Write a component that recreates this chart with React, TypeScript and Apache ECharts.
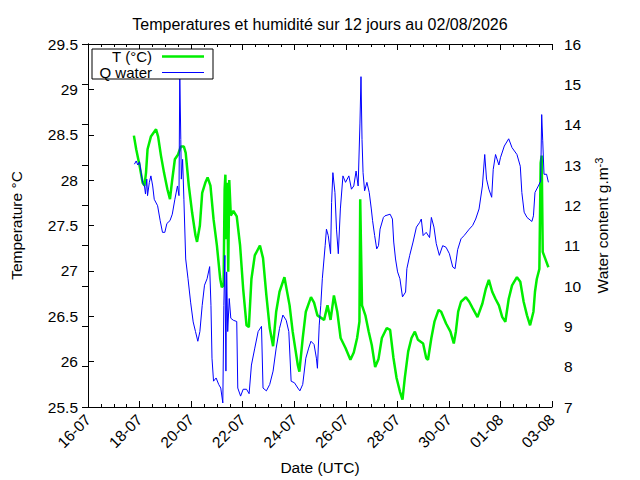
import React, { useEffect, useRef } from "react";
import * as echarts from "echarts";

// Time in days since 16-07-2026 00:00 UTC
const START_UTC = Date.UTC(2026, 6, 16);

const xTickDays = [0, 2, 4, 6, 8, 10, 12, 14, 16, 18];

const tempDays = [
  1.78, 1.87, 2.0, 2.12, 2.19, 2.25, 2.31, 2.44, 2.64, 2.72, 2.83, 2.95, 3.08, 3.18, 3.27, 3.37, 3.49, 3.6, 3.72, 3.79,
  3.91, 4.04, 4.17, 4.23, 4.34, 4.43, 4.55, 4.64, 4.75, 4.87, 5.0, 5.13, 5.19, 5.26, 5.3, 5.33, 5.36, 5.4, 5.44, 5.48,
  5.54, 5.64, 5.77, 5.9, 6.02, 6.15, 6.24, 6.34, 6.47, 6.67, 6.79, 6.92, 7.05, 7.18, 7.3, 7.43, 7.62, 7.82, 7.94, 8.14,
  8.2, 8.33, 8.45, 8.65, 8.77, 8.9, 9.16, 9.29, 9.41, 9.54, 9.67, 9.8, 9.99, 10.18, 10.31, 10.44, 10.53, 10.56, 10.59, 10.63,
  10.76, 10.89, 11.01, 11.14, 11.27, 11.4, 11.59, 11.72, 11.85, 11.97, 12.1, 12.2, 12.29, 12.42, 12.55, 12.68, 12.8, 13.0, 13.12, 13.19,
  13.32, 13.44, 13.6, 13.7, 13.89, 14.06, 14.19, 14.27, 14.36, 14.47, 14.66, 14.79, 14.92, 15.11, 15.3, 15.43, 15.55, 15.68, 15.81, 15.94,
  16.07, 16.19, 16.32, 16.45, 16.64, 16.77, 16.9, 17.03, 17.15, 17.28, 17.34, 17.41, 17.51, 17.56, 17.6, 17.64, 17.73, 17.86,
];
const tempValues = [
  28.49, 28.34, 28.16, 27.97, 27.94, 28.08, 28.34, 28.48, 28.56, 28.48, 28.27, 28.08, 27.9, 27.79, 28.01, 28.23, 28.28, 28.37, 28.37, 28.3,
  27.94, 27.64, 27.39, 27.32, 27.5, 27.86, 27.97, 28.03, 27.94, 27.57, 27.28, 26.91, 26.82, 26.84, 27.9, 28.06, 27.35, 27.97, 26.99, 28.0,
  27.61, 27.66, 27.6, 27.28, 26.8, 26.4, 26.38, 26.91, 27.17, 27.28, 27.14, 26.73, 26.37, 26.17, 26.55, 26.77, 26.93, 26.62, 26.33, 25.96,
  25.89, 26.26, 26.55, 26.71, 26.65, 26.51, 26.46, 26.62, 26.46, 26.73, 26.55, 26.26, 26.15, 26.02, 26.1, 26.26, 26.44, 27.79, 27.28, 26.62,
  26.51, 26.33, 26.18, 25.94, 26.03, 26.26, 26.37, 26.35, 26.04, 25.82, 25.67, 25.58, 25.82, 26.11, 26.26, 26.33, 26.24, 26.2, 26.04, 26.02,
  26.26, 26.44, 26.57, 26.55, 26.42, 26.33, 26.2, 26.33, 26.55, 26.66, 26.71, 26.66, 26.59, 26.49, 26.64, 26.8, 26.9, 26.77, 26.69, 26.62,
  26.49, 26.44, 26.69, 26.84, 26.93, 26.88, 26.66, 26.51, 26.4, 26.55, 26.77, 26.91, 27.02, 28.19, 28.27, 27.21, 27.14, 27.04,
];

const waterDays = [
  1.8, 1.87, 1.93, 2.0, 2.06, 2.12, 2.19, 2.23, 2.28, 2.31, 2.38, 2.44, 2.51, 2.57, 2.7, 2.8, 2.89, 2.98, 3.06, 3.18,
  3.27, 3.37, 3.47, 3.53, 3.56, 3.6, 3.62, 3.67, 3.72, 3.79, 3.88, 3.98, 4.08, 4.17, 4.26, 4.34, 4.43, 4.52, 4.62, 4.72,
  4.77, 4.81, 4.87, 4.97, 5.07, 5.15, 5.23, 5.27, 5.31, 5.35, 5.38, 5.42, 5.48, 5.54, 5.64, 5.77, 5.81, 5.92, 6.02, 6.15,
  6.25, 6.34, 6.47, 6.6, 6.73, 6.79, 6.92, 7.05, 7.18, 7.3, 7.43, 7.56, 7.69, 7.79, 7.88, 8.01, 8.14, 8.22, 8.33, 8.45,
  8.56, 8.65, 8.77, 8.86, 8.9, 8.97, 9.03, 9.09, 9.2, 9.25, 9.32, 9.41, 9.45, 9.5, 9.58, 9.64, 9.71, 9.79, 9.89, 9.99,
  10.12, 10.22, 10.31, 10.4, 10.48, 10.55, 10.59, 10.63, 10.67, 10.73, 10.82, 10.91, 10.99, 11.04, 11.12, 11.2, 11.27, 11.33, 11.46, 11.52,
  11.72, 11.81, 11.86, 11.93, 12.01, 12.1, 12.2, 12.32, 12.37, 12.48, 12.61, 12.74, 12.87, 12.93, 13.0, 13.12, 13.25, 13.32, 13.42, 13.51,
  13.63, 13.76, 13.89, 14.02, 14.15, 14.24, 14.34, 14.47, 14.59, 14.79, 14.92, 15.04, 15.17, 15.3, 15.39, 15.46, 15.55, 15.66, 15.72, 15.81,
  15.94, 16.0, 16.15, 16.32, 16.45, 16.64, 16.77, 16.83, 16.92, 17.03, 17.22, 17.28, 17.34, 17.47, 17.56, 17.6, 17.64, 17.69, 17.79, 17.86,
];
const waterValues = [
  13.02, 13.1, 13.0, 13.08, 12.81, 12.57, 12.48, 12.28, 12.65, 12.24, 12.57, 12.73, 12.48, 12.15, 11.99, 11.62, 11.33, 11.33, 11.55, 11.62,
  11.78, 12.15, 12.48, 12.24, 15.28, 13.63, 12.65, 13.14, 12.15, 10.67, 10.18, 9.6, 9.11, 8.87, 8.63, 8.87, 9.52, 10.02, 10.18, 10.48,
  9.52, 8.21, 7.64, 7.72, 7.56, 7.47, 7.1, 9.52, 10.76, 7.89, 10.35, 8.87, 9.69, 9.2, 9.15, 9.12, 7.47, 7.27, 7.44, 7.44,
  7.33, 8.04, 8.46, 8.87, 9.0, 7.47, 7.4, 7.56, 7.89, 8.46, 8.95, 9.28, 9.15, 8.87, 7.64, 7.6, 7.47, 7.4, 7.56, 8.21,
  8.46, 8.63, 8.55, 8.21, 7.96, 9.03, 9.52, 10.18, 11.0, 11.41, 11.25, 10.8, 12.07, 12.81, 12.32, 11.41, 10.8, 11.91, 12.73, 12.57,
  12.73, 12.4, 12.48, 12.85, 12.48, 14.04, 15.19, 13.63, 12.81, 12.36, 12.57, 12.32, 11.91, 11.62, 11.25, 10.92, 11.0, 11.41, 11.7, 11.74,
  11.78, 11.66, 11.09, 10.67, 10.35, 10.18, 9.73, 9.85, 10.43, 10.76, 11.09, 11.46, 11.58, 11.66, 11.25, 11.33, 11.2, 11.7, 11.46, 11.05,
  10.76, 11.0, 10.96, 10.8, 10.47, 10.43, 10.9, 11.17, 11.25, 11.41, 11.5, 11.66, 11.91, 12.48, 13.26, 12.65, 12.4, 12.2, 12.89, 13.26,
  13.0, 13.18, 13.47, 13.65, 13.43, 13.26, 12.97, 12.32, 11.83, 11.7, 11.6, 11.74, 12.32, 12.48, 12.6, 14.25, 13.6, 12.77, 12.77, 12.57,
];

const TITLE = "Temperatures et humidité sur 12 jours au 02/08/2026";
const FONT = "Liberation Sans";

function dayLabel(v: number): string {
  const d = new Date(START_UTC + v * 86400000);
  const dd = String(d.getUTCDate()).padStart(2, "0");
  const mm = String(d.getUTCMonth() + 1).padStart(2, "0");
  return `${dd}-${mm}`;
}

export default function App() {
  const ref = useRef<HTMLDivElement>(null);
  useEffect(() => {
    if (!ref.current) return;
    const chart = echarts.init(ref.current, null, { renderer: "svg" });
    const axisLine = { show: true, lineStyle: { color: "#000", width: 1 } };
    const labelStyle = { color: "#000", fontFamily: FONT, fontSize: 15.5 };
    chart.setOption({
      animation: false,
      backgroundColor: "#fff",
      textStyle: { fontFamily: FONT },
      title: {
        text: TITLE,
        left: "center",
        top: 11,
        textStyle: { fontFamily: FONT, fontSize: 16, fontWeight: "normal", color: "#000" },
      },
      grid: { left: 83, right: 88, top: 44, bottom: 71 },
      xAxis: [
        {
          type: "value",
          min: 0,
          max: 18,
          interval: 2,
          position: "bottom",
          axisLine,
          axisTick: { show: true, inside: true, length: 6, lineStyle: { color: "#000" } },
          minorTick: { show: true, splitNumber: 4, length: 3, lineStyle: { color: "#000" } },
          splitLine: { show: false },
          axisLabel: {
            ...labelStyle,
            rotate: 45,
            margin: 10,
            formatter: (v: number) => (xTickDays.includes(v) ? dayLabel(v) : ""),
          },
          name: "Date (UTC)",
          nameLocation: "middle",
          nameGap: 52,
          nameTextStyle: { ...labelStyle },
        },
        {
          type: "value",
          min: 0,
          max: 18,
          interval: 2,
          position: "top",
          axisLine,
          axisTick: { show: true, inside: true, length: 6, lineStyle: { color: "#000" } },
          minorTick: { show: true, splitNumber: 4, length: 3, lineStyle: { color: "#000" } },
          splitLine: { show: false },
          axisLabel: { show: false },
        },
      ],
      yAxis: [
        {
          type: "value",
          min: 25.5,
          max: 29.5,
          interval: 0.5,
          position: "left",
          axisLine,
          axisTick: { show: true, inside: true, length: 6, lineStyle: { color: "#000" } },
          splitLine: { show: false },
          axisLabel: { ...labelStyle, margin: 10 },
          name: "Temperature °C",
          nameLocation: "middle",
          nameRotate: 90,
          nameGap: 64,
          nameTextStyle: { ...labelStyle },
        },
        {
          type: "value",
          min: 7,
          max: 16,
          interval: 1,
          position: "right",
          axisLine,
          axisTick: { show: true, inside: true, length: 6, lineStyle: { color: "#000" } },
          splitLine: { show: false },
          axisLabel: { ...labelStyle, margin: 12 },
          name: "Water content g.m{sup|-3}",
          nameLocation: "middle",
          nameRotate: 90,
          nameGap: 41,
          nameTextStyle: {
            ...labelStyle,
            rich: { sup: { fontFamily: FONT, fontSize: 11, color: "#000", verticalAlign: "top", padding: [0, 0, 8, 0] } },
          },
        },
      ],
      graphic: [
        {
          type: "rect",
          shape: { x: 92, y: 49, width: 121, height: 30 },
          style: { fill: "#fff", stroke: "#000", lineWidth: 1 },
          z: 100,
        },
        {
          type: "text",
          x: 152,
          y: 56.5,
          style: { text: "T (°C)", fontFamily: FONT, fontSize: 15, fill: "#000", align: "right", verticalAlign: "middle" },
          z: 101,
        },
        {
          type: "text",
          x: 152,
          y: 72,
          style: { text: "Q water", fontFamily: FONT, fontSize: 15, fill: "#000", align: "right", verticalAlign: "middle" },
          z: 101,
        },
        {
          type: "line",
          shape: { x1: 162, y1: 56.5, x2: 204, y2: 56.5 },
          style: { stroke: "#00ee00", lineWidth: 2.5 },
          z: 101,
        },
        {
          type: "line",
          shape: { x1: 162, y1: 72.5, x2: 204, y2: 72.5 },
          style: { stroke: "#0000ff", lineWidth: 1 },
          z: 101,
        },
      ],
      series: [
        {
          name: "T (°C)",
          type: "line",
          xAxisIndex: 0,
          yAxisIndex: 0,
          showSymbol: false,
          symbol: "none",
          lineStyle: { color: "#00ee00", width: 2.5 },
          data: tempDays.map((d, i) => [d, tempValues[i]]),
        },
        {
          name: "Q water",
          type: "line",
          xAxisIndex: 0,
          yAxisIndex: 1,
          showSymbol: false,
          symbol: "none",
          lineStyle: { color: "#0000ff", width: 1 },
          data: waterDays.map((d, i) => [d, waterValues[i]]),
        },
      ],
    });
    return () => chart.dispose();
  }, []);
  return <div ref={ref} style={{ position: "fixed", left: 0, top: 0, width: 640, height: 480, background: "#fff" }} />;
}
